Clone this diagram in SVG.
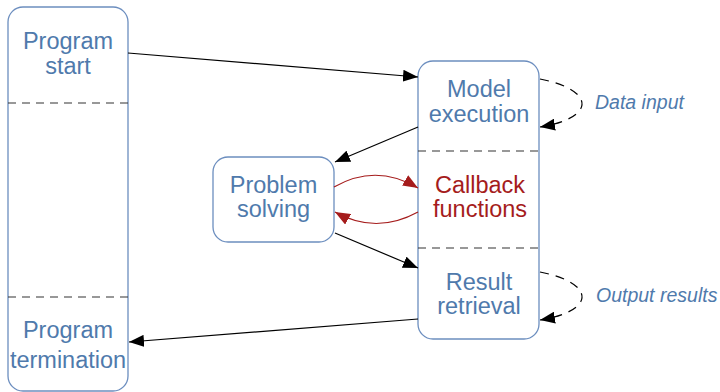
<svg xmlns="http://www.w3.org/2000/svg" width="720" height="392" viewBox="0 0 720 392">
<defs>
<style>
.box{fill:#fff;stroke:#6c8ebf;stroke-width:1.3}
.div{stroke:#333;stroke-width:1.2;stroke-dasharray:8,6;fill:none}
.t{font-family:"Liberation Sans",Arial,sans-serif;font-size:23.5px;fill:#4f7aac;text-anchor:middle}
.r{fill:#a51c1c}
.lbl{font-family:"Liberation Sans",Arial,sans-serif;font-size:19.5px;font-style:italic;fill:#4f7aac}
.c{stroke:#000;stroke-width:1.2;fill:none;marker-end:url(#ah)}
.cr{stroke:#a51c1c;stroke-width:1.2;fill:none;marker-end:url(#ahr)}
.cd{stroke:#000;stroke-width:1.2;fill:none;stroke-dasharray:9,7;marker-end:url(#ah)}
</style>
<marker id="ah" markerUnits="userSpaceOnUse" markerWidth="16" markerHeight="12" refX="15" refY="6" orient="auto"><path d="M0,0 L15,6 L0,12 Z" fill="#000"/></marker>
<marker id="ahr" markerUnits="userSpaceOnUse" markerWidth="16" markerHeight="12" refX="15" refY="6" orient="auto"><path d="M0,0 L15,6 L0,12 Z" fill="#a51c1c"/></marker>
</defs>
<g id="program">
<rect class="box" x="8" y="7" width="120" height="384" rx="15"/>
<line class="div" x1="8" y1="103" x2="128" y2="103"/>
<line class="div" x1="8" y1="297" x2="128" y2="297"/>
<text class="t" x="68" y="49">Program</text>
<text class="t" x="68" y="74">start</text>
<text class="t" x="68" y="338">Program</text>
<text class="t" x="68" y="368">termination</text>
</g>
<g id="model">
<rect class="box" x="418" y="61" width="121" height="278" rx="15"/>
<line class="div" x1="418" y1="151" x2="539" y2="151"/>
<line class="div" x1="418" y1="248" x2="539" y2="248"/>
<text class="t" x="479" y="97">Model</text>
<text class="t" x="479" y="122">execution</text>
<text class="t r" x="480" y="193">Callback</text>
<text class="t r" x="480" y="217">functions</text>
<text class="t" x="479" y="290">Result</text>
<text class="t" x="479" y="314">retrieval</text>
</g>
<g id="problem">
<rect class="box" x="213" y="157" width="121" height="85" rx="15"/>
<text class="t" x="273.5" y="193">Problem</text>
<text class="t" x="273.5" y="217">solving</text>
</g>
<g id="labels">
<text class="lbl" x="595" y="109">Data input</text>
<text class="lbl" x="596" y="302">Output results</text>
</g>
<g id="connectors">
<path class="c" d="M128,53 L418,77"/>
<path class="c" d="M418,127 L335,162"/>
<path class="c" d="M335,233 L418,268"/>
<path class="c" d="M418,319 L129,342"/>
<path class="cr" d="M334,187 Q376,163 418,188"/>
<path class="cr" d="M418,212 Q376,235 335,212"/>
<path class="cd" d="M540,79 C596,90 596,118 540,127"/>
<path class="cd" d="M540,272 C596,283 596,311 540,320"/>
</g>
</svg>
